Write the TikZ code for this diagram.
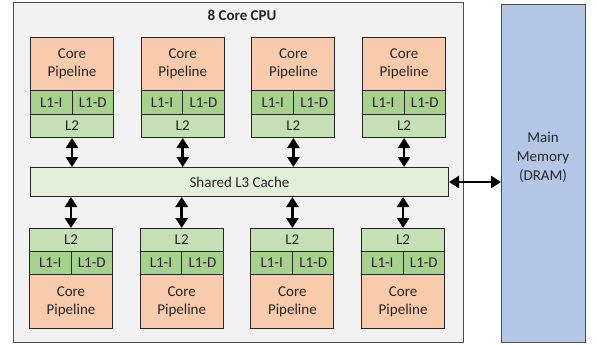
\documentclass[tikz,border=0pt]{standalone}
\usepackage{fontspec}
\setmainfont{Carlito}
\usetikzlibrary{arrows.meta}
\definecolor{pipe}{HTML}{F8CBAD}
\definecolor{lone}{HTML}{A9D18E}
\definecolor{ltwo}{HTML}{C5E0B4}
\definecolor{lthree}{HTML}{E2F0D9}
\definecolor{cpubg}{HTML}{F2F2F2}
\definecolor{mem}{HTML}{B4C7E7}
\tikzset{
  blk/.style={draw=black!85, line width=1pt, anchor=north west, inner sep=0pt, text=black!85, font=\fontsize{15}{18}\selectfont, align=center},
  dbl/.style={line width=2.6pt, {Triangle[width=12pt,length=10pt]}-{Triangle[width=12pt,length=10pt]}},
}
\begin{document}
\begin{tikzpicture}[x=1pt,y=-1pt]
\useasboundingbox (0,0) rectangle (597,345);
\node[draw=black!70, fill=cpubg, line width=1.2pt, anchor=north west, minimum width=450pt, minimum height=340pt, inner sep=0pt] (cpu) at (13,2) {};
\node[font=\fontsize{15}{18}\selectfont\bfseries, text=black!85] (title) at (242,15) {8 Core CPU};
\node[blk, fill=mem, draw=black!70, minimum width=84pt, minimum height=338pt] (mem) at (501,4) {};
\node[text=black!85, font=\fontsize{15}{19}\selectfont, align=center] (memt) at (543,157) {Main\\Memory\\(DRAM)};
\node[blk, fill=lthree, minimum width=418pt, minimum height=29pt] (l3) at (30,167) {Shared L3 Cache};
\foreach \i in {0,1,2,3}{
  \pgfmathsetmacro{\xt}{30+110.7*\i}
  \pgfmathsetmacro{\xb}{29+110.7*\i}
  % top core
  \node[blk, fill=pipe, minimum width=83pt, minimum height=53pt] (tp\i) at (\xt,37) {Core\\Pipeline};
  \node[blk, fill=lone, minimum width=41.5pt, minimum height=24pt] (ti\i) at (\xt,90) {L1-I};
  \node[blk, fill=lone, minimum width=41.5pt, minimum height=24pt] (td\i) at (\xt+41.5,90) {L1-D};
  \node[blk, fill=ltwo, minimum width=83pt, minimum height=23pt] (tl\i) at (\xt,114) {L2};
  % bottom core
  \node[blk, fill=ltwo, minimum width=83pt, minimum height=23pt] (bl\i) at (\xb,228) {L2};
  \node[blk, fill=lone, minimum width=41.5pt, minimum height=23pt] (bi\i) at (\xb,251) {L1-I};
  \node[blk, fill=lone, minimum width=41.5pt, minimum height=23pt] (bd\i) at (\xb+41.5,251) {L1-D};
  \node[blk, fill=pipe, minimum width=83pt, minimum height=54pt] (bp\i) at (\xb,274) {Core\\Pipeline};
  \draw[dbl] (tl\i.south) -- (tl\i.south |- l3.north);
  \draw[dbl] (bl\i.north) -- (bl\i.north |- l3.south);
}
\draw[dbl] (l3.east) -- (l3.east -| mem.west);
\end{tikzpicture}
\end{document}
